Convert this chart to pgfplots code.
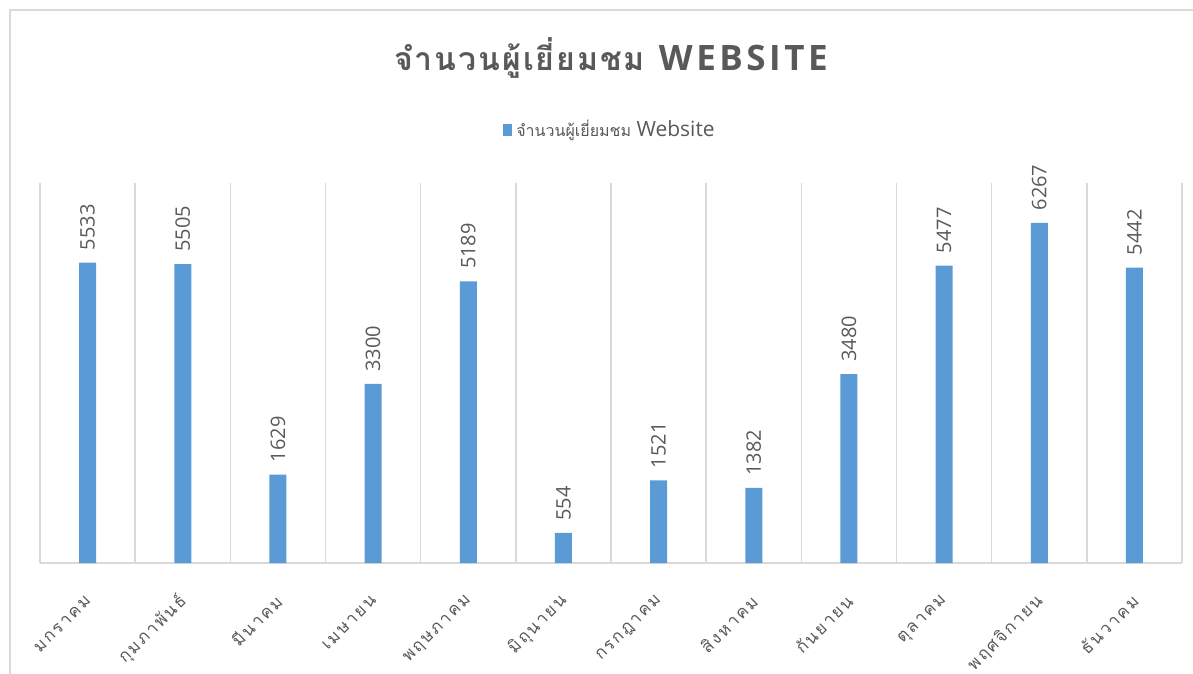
\documentclass[border=0pt]{standalone}
\usepackage{fontspec}
\usepackage{pgfplots}
\pgfplotsset{compat=1.18}
\setmainfont{Open Sans}
\newfontfamily\thai[Script=Thai]{Loma}
\newfontfamily\thaisp[Script=Thai,LetterSpace=12]{Loma}
\newfontfamily\titlelat[LetterSpace=10]{Open Sans}
\newfontfamily\titlethai[Script=Thai,LetterSpace=6]{Loma}
\definecolor{barc}{HTML}{5B9BD5}
\definecolor{txt}{HTML}{595959}
\definecolor{grd}{HTML}{D9D9D9}
\begin{document}
\begin{tikzpicture}
\path[use as bounding box] (-20pt,-55.5pt) rectangle (576.5pt,281.5pt);
\draw[grd, line width=0.75pt] (-15pt,-60pt) -- (-15pt,276.5pt) -- (580pt,276.5pt);
\begin{axis}[
  at={(0,0)}, anchor=south west, scale only axis,
  width=571pt, height=190pt,
  xmin=-0.5, xmax=11.5, ymin=0, ymax=7000,
  axis y line=none, axis x line=bottom,
  x axis line style={grd, line width=0.75pt, -},
  xtick={0,...,11},
  xticklabels={มกราคม, กุมภาพันธ์, มีนาคม, เมษายน, พฤษภาคม, มิถุนายน, กรกฎาคม, สิงหาคม, กันยายน, ตุลาคม, พฤศจิกายน, ธันวาคม},
  major tick length=0pt,
  minor xtick={-0.5,0.5,...,11.5}, minor tick length=0pt,
  xminorgrids, minor grid style={grd, line width=0.75pt},
  xticklabel style={xshift=0.5pt, yshift=-17.5pt, rotate=45, anchor=east, font=\thaisp\fontsize{8.5}{10}\selectfont, text=txt, inner sep=0pt},
  ybar, bar width=8.5pt,
  nodes near coords={\pgfmathprintnumber[fixed, precision=0, 1000 sep={}, assume math mode=true]{\pgfplotspointmeta}},
  every node near coord/.append style={rotate=90, anchor=west, font=\fontsize{10}{12}\selectfont, text=txt, inner xsep=6pt, inner ysep=0pt},
  legend style={at={(0.5,1.1395)}, anchor=center, draw=none, fill=none, font=\fontsize{10.5}{12}\selectfont, text=txt, inner sep=0pt},
  legend image code/.code={\fill[barc] (0pt,-3pt) rectangle (4.5pt,3pt);},
  title={{\titlethai\bfseries\fontsize{16}{19}\selectfont จำนวนผู้เยี่ยมชม}\hspace{7pt}{\titlelat\bfseries\fontsize{17.5}{20}\selectfont WEBSITE}},
  title style={at={(0.5,1)}, anchor=center, yshift=56.5pt, text=txt},
]
\addplot[fill=barc, draw=none] coordinates {
  (0,5533) (1,5505) (2,1629) (3,3300) (4,5189) (5,554)
  (6,1521) (7,1382) (8,3480) (9,5477) (10,6267) (11,5442)
};
\addlegendentry{{\thai\fontsize{8}{10}\selectfont จำนวนผู้เยี่ยมชม} Website}
\end{axis}
\end{tikzpicture}
\end{document}
